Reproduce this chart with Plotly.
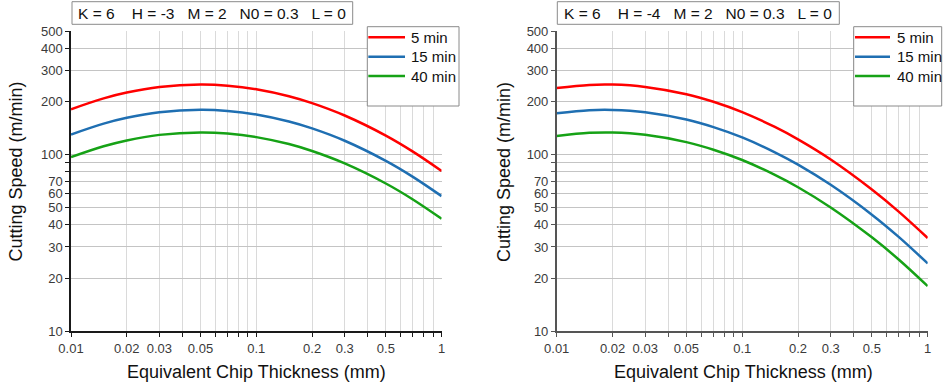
import math
import plotly.graph_objects as go

# ---------------- data ----------------
chip_thickness = [0.01, 0.015, 0.02, 0.03, 0.05, 0.07, 0.1, 0.15, 0.2, 0.3, 0.5, 0.7, 1.0]

# left panel: K = 6, H = -3, M = 2, N0 = 0.3, L = 0
left_5min = [180.5, 208, 224.3, 241, 248.9, 245.3, 234.2, 213.8, 195.4, 166.3, 128.0, 103.9, 80.8]
left_15min = [129.8, 149.6, 161.4, 173.4, 179.1, 176.5, 168.6, 153.8, 140.6, 119.7, 92.1, 74.8, 58.2]
left_40min = [96.7, 111.4, 120.2, 129.2, 133.4, 131.5, 125.5, 114.6, 104.7, 89.1, 68.6, 55.7, 43.3]

# right panel: K = 6, H = -4, M = 2, N0 = 0.3, L = 0
right_5min = [237.7, 247.7, 248.7, 241.4, 219.4, 198.8, 173.7, 143.2, 121.8, 93.7, 63.4, 47.4, 33.7]
right_15min = [171.1, 178.2, 178.9, 173.7, 157.9, 143.0, 125.0, 103.0, 87.7, 67.4, 45.7, 34.1, 24.2]
right_40min = [127.4, 132.7, 133.3, 129.4, 117.6, 106.5, 93.1, 76.7, 65.3, 50.2, 34.0, 25.4, 18.0]

series_names = ["5 min", "15 min", "40 min"]
panel_titles = [
    "K = 6\u00a0\u00a0\u00a0\u00a0H = -3\u00a0\u00a0\u00a0M = 2\u00a0\u00a0\u00a0N0 = 0.3\u00a0\u00a0\u00a0L = 0",
    "K = 6\u00a0\u00a0\u00a0\u00a0H = -4\u00a0\u00a0\u00a0M = 2\u00a0\u00a0\u00a0N0 = 0.3\u00a0\u00a0\u00a0L = 0",
]

x_tickvals = [0.01, 0.02, 0.03, 0.04, 0.05, 0.06, 0.07, 0.08, 0.09,
              0.1, 0.2, 0.3, 0.4, 0.5, 0.6, 0.7, 0.8, 0.9, 1.0]
x_ticktext = ["0.01", "0.02", "0.03", "", "0.05", "", "", "", "",
              "0.1", "0.2", "0.3", "", "0.5", "", "", "", "", "1"]
y_tickvals = [10, 20, 30, 40, 50, 60, 70, 80, 90, 100, 200, 300, 400, 500]
y_ticktext = ["10", "20", "30", "40", "50", "60", "70", "", "", "100", "200", "300", "400", "500"]

x_title = "Equivalent Chip Thickness (mm)"
y_title = "Cutting Speed (m/min)"

# ---------------- styling ----------------
W, H = 943, 386
colors = ["#ff0000", "#1f6fb2", "#16a216"]
FONT = "Liberation Sans, Arial, sans-serif"


def px_x(p):
    return p / W


def px_y(p):
    return 1 - p / H


fig = go.Figure()

panels = [
    (left_5min, left_15min, left_40min),
    (right_5min, right_15min, right_40min),
]
for pi, series in enumerate(panels):
    suffix = "" if pi == 0 else "2"
    for si, vals in enumerate(series):
        fig.add_trace(go.Scatter(
            x=chip_thickness, y=vals, name=series_names[si],
            mode="lines", line=dict(color=colors[si], width=2.5, shape="spline", smoothing=1.0),
            xaxis="x" + suffix, yaxis="y" + suffix,
            showlegend=False, hoverinfo="skip",
        ))

plot_left = [71.0, 556.7]
plot_right = [441.6, 927.7]
plot_top, plot_bottom = 31.0, 331.3
axis_line_colors = ["#1a1a1a", "#555555"]

layout = dict(
    width=W, height=H,
    margin=dict(l=0, r=0, t=0, b=0, autoexpand=False),
    paper_bgcolor="white", plot_bgcolor="white",
    font=dict(family=FONT, color="#222222"),
    showlegend=False,
)

for pi in range(2):
    suffix = "" if pi == 0 else str(pi + 1)
    layout["xaxis" + suffix] = dict(
        type="log", range=[-2, 0],
        domain=[px_x(plot_left[pi]), px_x(plot_right[pi])],
        anchor="y" + suffix,
        tickmode="array", tickvals=x_tickvals, ticktext=x_ticktext,
        showgrid=True, gridcolor="#dadada", gridwidth=1,
        showline=True, linecolor=axis_line_colors[pi], linewidth=1.5,
        ticks="outside", ticklen=4, tickcolor=axis_line_colors[pi],
        tickfont=dict(size=13, color="#3a3a3a", family=FONT),
        zeroline=False, fixedrange=True, automargin=False,
    )
    layout["yaxis" + suffix] = dict(
        type="log", range=[1, math.log10(500)],
        domain=[px_y(plot_bottom), px_y(plot_top)],
        anchor="x" + suffix,
        tickmode="array", tickvals=y_tickvals, ticktext=y_ticktext,
        showgrid=True, gridcolor="#c4c4c4", gridwidth=1,
        showline=True, linecolor=axis_line_colors[pi], linewidth=1.5,
        ticks="outside", ticklen=4, tickcolor=axis_line_colors[pi],
        tickfont=dict(size=13, color="#3a3a3a", family=FONT),
        zeroline=False, fixedrange=True, automargin=False,
    )

legend_boxes = [(367.3, 26.7, 459.0, 106.0), (853.7, 26.7, 941.7, 106.0)]
legend_line_x = [(368.3, 405.0), (855.0, 890.0)]
legend_text_x = [408.7, 894.5]
legend_rows = [37.3, 56.7, 76.0]
title_boxes = [(72.0, 1.7, 352.7, 24.3), (557.3, 1.7, 839.3, 24.3)]

shapes = []
annotations = []
for pi in range(2):
    lx0, ly0, lx1, ly1 = legend_boxes[pi]
    shapes.append(dict(type="rect", xref="paper", yref="paper",
                       x0=px_x(lx0), x1=px_x(lx1), y0=px_y(ly1), y1=px_y(ly0),
                       line=dict(color="#8a8a8a", width=1), fillcolor="white", layer="above"))
    for si, name in enumerate(series_names):
        ry = legend_rows[si]
        shapes.append(dict(type="line", xref="paper", yref="paper",
                           x0=px_x(legend_line_x[pi][0]), x1=px_x(legend_line_x[pi][1]),
                           y0=px_y(ry), y1=px_y(ry),
                           line=dict(color=colors[si], width=2.5), layer="above"))
        annotations.append(dict(text=name, xref="paper", yref="paper",
                                x=px_x(legend_text_x[pi]), y=px_y(ry),
                                xanchor="left", yanchor="middle", showarrow=False,
                                font=dict(size=15, color="#111111", family=FONT)))
    tx0, ty0, tx1, ty1 = title_boxes[pi]
    shapes.append(dict(type="rect", xref="paper", yref="paper",
                       x0=px_x(tx0), x1=px_x(tx1), y0=px_y(ty1), y1=px_y(ty0),
                       line=dict(color="#8a8a8a", width=1), fillcolor="white", layer="above"))
    annotations.append(dict(text=panel_titles[pi], xref="paper", yref="paper",
                            x=px_x((tx0 + tx1) / 2), y=px_y((ty0 + ty1) / 2),
                            xanchor="center", yanchor="middle", showarrow=False,
                            font=dict(size=15.5, color="#111111", family=FONT)))

# axis titles
x_title_centers = [256.0, 743.3]
y_title_centers = [15.5, 504.0]
for pi in range(2):
    annotations.append(dict(text=x_title, xref="paper", yref="paper",
                            x=px_x(x_title_centers[pi]), y=px_y(371.5),
                            xanchor="center", yanchor="middle", showarrow=False,
                            font=dict(size=18, color="#111111", family=FONT)))
    annotations.append(dict(text=y_title, xref="paper", yref="paper",
                            x=px_x(y_title_centers[pi]), y=px_y(172.0),
                            xanchor="center", yanchor="middle", showarrow=False, textangle=-90,
                            font=dict(size=18, color="#111111", family=FONT)))

layout["shapes"] = shapes
layout["annotations"] = annotations
fig.update_layout(**layout)

fig.write_html("out.html")
